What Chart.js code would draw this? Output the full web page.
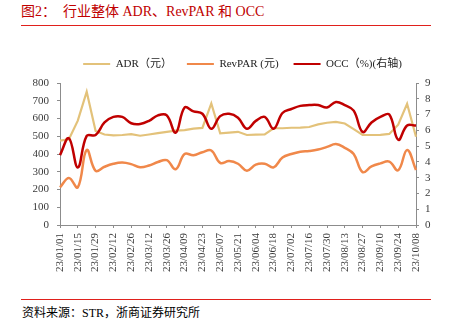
<!DOCTYPE html>
<html>
<head>
<meta charset="utf-8">
<script src="https://cdn.jsdelivr.net/npm/chart.js@4"></script>
<style>
  html,body{margin:0;padding:0;background:#fff;}
  body{width:452px;height:324px;position:relative;overflow:hidden;}
  .f{font-family:'Liberation Serif','Noto Sans CJK SC',serif;position:absolute;white-space:pre;}
  #title{left:21px;top:5px;font-size:14px;line-height:14px;color:#c00000;}
  #src{left:22px;top:307px;font-size:12px;line-height:13px;color:#000;}
  .rule{position:absolute;left:21px;width:410px;height:1px;background:#e0201c;}
  #wrap{position:absolute;left:0;top:40px;width:452px;height:250px;}
</style>
</head>
<body>
<div id="title" class="f">图2：  行业整体 ADR、RevPAR 和 OCC</div>
<div class="rule" style="top:25px"></div>
<div id="wrap"><canvas id="c"></canvas></div>
<div class="rule" style="top:299px"></div>
<div id="src" class="f">资料来源：STR，浙商证券研究所</div>
<script>
const weeks = ["23/01/01","23/01/08","23/01/15","23/01/22","23/01/29","23/02/05","23/02/12","23/02/19","23/02/26","23/03/05","23/03/12","23/03/19","23/03/26","23/04/02","23/04/09","23/04/16","23/04/23","23/04/30","23/05/07","23/05/14","23/05/21","23/05/28","23/06/04","23/06/11","23/06/18","23/06/25","23/07/02","23/07/09","23/07/16","23/07/23","23/07/30","23/08/06","23/08/13","23/08/20","23/08/27","23/09/03","23/09/10","23/09/17","23/09/24","23/10/01","23/10/08"];
const adr = [475,483,588,751,530,510,505,507,512,503,510,518,525,532,535,543,547,685,516,520,525,507,509,511,545,545,548,549,552,567,576,581,572,540,507,507,508,513,565,683,497];
const revpar = [212,265,212,423,305,328,345,352,343,325,335,355,365,314,400,393,410,420,350,360,345,306,340,345,325,380,400,413,417,425,440,456,435,400,298,330,347,357,308,423,310];
const occ = [4.43,5.5,3.65,5.65,5.7,6.5,6.85,6.85,6.45,6.4,6.6,6.95,6.95,5.85,7.45,7.2,7.05,6.1,6.9,7.05,6.8,6.1,6.6,6.85,6.1,7.1,7.35,7.55,7.6,7.6,7.45,7.8,7.6,7.25,5.9,6.5,6.85,7.0,5.4,6.3,6.3];
const seriesNames = ["ADR（元）","RevPAR (元)","OCC（%)(右轴)"];
const seriesColors = ["#E3C27A","#F0884A","#C00000"];

const FONT = "'Liberation Serif','Noto Sans CJK SC',serif";
const axisGray = "#8c8c8c";
const tickText = "#3a3a3a";

const legendGap = {
  id: 'legendGap',
  beforeUpdate(chart) {
    const lg = chart.legend;
    if (lg && !lg._gapPatched) {
      const fit = lg.fit;
      lg.fit = function() { fit.call(this); this.height += 3.5; };
      lg._gapPatched = true;
    }
  }
};

new Chart(document.getElementById('c'), {
  type: 'line',
  data: {
    labels: weeks,
    datasets: [
      {label: seriesNames[0], data: adr, borderColor: seriesColors[0], backgroundColor: seriesColors[0], borderWidth: 2.2, tension: 0, pointRadius: 0, yAxisID: 'y', order: 1},
      {label: seriesNames[1], data: revpar, borderColor: seriesColors[1], backgroundColor: seriesColors[1], borderWidth: 2.5, tension: 0.4, pointRadius: 0, yAxisID: 'y', order: 2},
      {label: seriesNames[2], data: occ, borderColor: seriesColors[2], backgroundColor: seriesColors[2], borderWidth: 2.5, tension: 0.4, pointRadius: 0, yAxisID: 'y1', order: 0}
    ]
  },
  plugins: [legendGap],
  options: {
    responsive: true,
    maintainAspectRatio: false,
    animation: false,
    layout: {padding: {top: 3.5, left: 33, right: 0, bottom: 0}},
    plugins: {
      tooltip: {enabled: false},
      legend: {
        display: true,
        position: 'top',
        labels: {
          font: {family: FONT, size: 11},
          color: '#222',
          boxWidth: 27,
          boxHeight: 2,
          padding: 15,
          generateLabels: (chart) => chart.data.datasets.map((ds, i) => ({
            text: ds.label, fillStyle: ds.borderColor, strokeStyle: ds.borderColor,
            lineWidth: 0, hidden: false, datasetIndex: i, fontColor: '#222'
          }))
        }
      }
    },
    scales: {
      x: {
        type: 'category',
        offset: false,
        grid: {display: true, drawOnChartArea: false, drawTicks: true, tickLength: 3,
               tickColor: (ctx) => (ctx.index % 2 === 0 ? axisGray : 'rgba(0,0,0,0)')},
        border: {display: true, color: axisGray, width: 1},
        ticks: {
          autoSkip: false, maxRotation: 90, minRotation: 90, padding: 5,
          font: {family: FONT, size: 11}, color: tickText,
          callback: function(v, i) { return i % 2 === 0 ? this.getLabelForValue(v) : ''; }
        },
        afterFit: (s) => { s.height = 65; }
      },
      y: {
        position: 'left', min: 0, max: 800,
        grid: {display: true, drawOnChartArea: false, tickLength: 3, tickColor: axisGray},
        border: {display: true, color: axisGray, width: 1},
        ticks: {stepSize: 100, autoSkip: false, padding: 8, font: {family: FONT, size: 11}, color: tickText},
        afterFit: (s) => { s.width = 27; }
      },
      y1: {
        position: 'right', min: 0, max: 9,
        grid: {display: true, drawOnChartArea: false, tickLength: 3, tickColor: axisGray},
        border: {display: true, color: axisGray, width: 1},
        ticks: {stepSize: 1, autoSkip: false, padding: 6, font: {family: FONT, size: 11}, color: tickText},
        afterFit: (s) => { s.width = 36; }
      }
    }
  }
});
</script>
</body>
</html>
